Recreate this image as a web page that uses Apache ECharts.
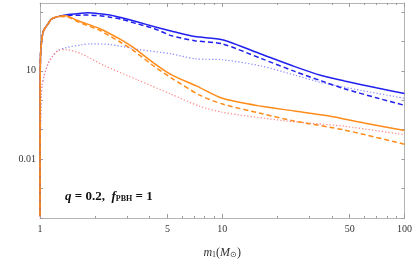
<!DOCTYPE html>
<html><head><meta charset="utf-8">
<script src="https://cdn.jsdelivr.net/npm/echarts@6/dist/echarts.min.js"></script>
<style>html,body{margin:0;padding:0;background:#fff}#c{width:415px;height:264px}</style>
</head><body><div id="c"></div>
<script>
// tick values
const xTickLabels = [1, 5, 10, 50, 100];
const xMinorTicks = [2, 3, 4, 6, 7, 8, 9, 20, 30, 40, 60, 70, 80, 90];
const yTickValues = [1e-4, 1e-3, 1e-2, 1e-1, 1, 10, 100, 1000];
const yTickLabels = [0.01, 10];

// shared steep rise near m1 = 1
const massRise = [1, 1.002, 1.006, 1.0165, 1.038, 1.061, 1.106, 1.153, 1.255];
const solidRise = [1.2e-4, 2, 30, 78, 200, 268, 389, 565, 690];
const massDotRise = [1, 1.0013, 1.006, 1.0165, 1.026, 1.052, 1.106, 1.163, 1.255];
const dotRise = [1.1e-4, 0.002, 0.076, 1.48, 3.1, 6.5, 17.2, 28.9, 48.6];

// blue solid
const bsMass = [1.388, 1.678, 1.833, 2.133, 2.418, 2.779, 3.44, 4.25, 5.24, 7.07, 10, 16.4, 25, 35, 46.9, 70, 100];
const bsVal = [790, 890, 925, 860, 780, 640, 452, 312, 223, 145, 113, 36.4, 13.8, 6.9, 4.52, 2.63, 1.68];
// blue dashed
const bdMass = [1.388, 1.678, 1.833, 2.133, 2.418, 2.779, 3.44, 4.25, 5.24, 7.07, 10, 16.4, 25, 35, 46.9, 70, 100];
const bdVal = [760, 775, 780, 740, 660, 565, 389, 268, 156, 105, 82, 25.9, 9.5, 4.52, 2.44, 1.21, 0.67];
// blue dotted
const btMass = [1.388, 1.678, 1.904, 2.418, 3.44, 5.24, 7.07, 10, 16.4, 25, 35, 57.9, 100];
const btVal = [60.8, 76, 82, 77.6, 53.6, 37.4, 25.5, 23.7, 14.5, 7.1, 3.98, 2.15, 1.16];
// orange solid
const osMass = [1.388, 1.484, 1.615, 2.133, 2.779, 3.233, 4.25, 5.24, 7.25, 10, 16.4, 25, 38, 60, 100];
const osVal = [735, 640, 498, 268, 114, 63, 17.6, 7.43, 3.0, 1.16, 0.62, 0.43, 0.296, 0.168, 0.093];
// orange dashed
const odMass = [1.388, 1.484, 1.615, 2.133, 2.779, 3.233, 4.25, 5.24, 7.53, 10, 16.4, 25, 46.9, 100];
const odVal = [680, 600, 460, 232, 91, 50.5, 13.8, 5.77, 1.48, 0.743, 0.353, 0.195, 0.097, 0.032];
// pink dotted
const ptMass = [1.388, 1.678, 2.262, 3.44, 5.24, 7.53, 10, 22, 46.9, 100];
const ptVal = [52.4, 38, 14.8, 4.87, 1.6, 0.62, 0.39, 0.2, 0.13, 0.067];

function pairs(m1, v1, m2, v2) {
  const out = [];
  m1.forEach((m, i) => out.push([m, v1[i]]));
  m2.forEach((m, i) => out.push([m, v2[i]]));
  return out;
}

const FRAME = '#b4b4b4';
const TICK = '#9a9a9a';
const FONT = 'Liberation Serif';

function xAx(pos, ticks, len, showLine, labels) {
  return {
    type: 'log', logBase: 10, min: 1, max: 100, position: pos,
    axisLine: { show: showLine, lineStyle: { color: FRAME, width: 1 } },
    axisTick: { show: true, inside: true, length: len, customValues: ticks, lineStyle: { color: TICK, width: 1 } },
    axisLabel: labels ? { show: true, customValues: labels, color: '#333', fontFamily: FONT, fontSize: 10, margin: 6 } : { show: false },
    splitLine: { show: false }, minorTick: { show: false }
  };
}
function yAx(pos, showLine, labels) {
  return {
    type: 'log', logBase: 10, min: 1e-4, max: 2000, position: pos,
    axisLine: { show: showLine, lineStyle: { color: FRAME, width: 1 } },
    axisTick: { show: true, inside: true, length: 3, customValues: yTickValues, lineStyle: { color: TICK, width: 1 } },
    axisLabel: labels ? { show: true, customValues: labels, color: '#333', fontFamily: FONT, fontSize: 10, margin: 4 } : { show: false },
    splitLine: { show: false }, minorTick: { show: false }
  };
}

const xMain = xAx('bottom', xTickLabels, 4, true, xTickLabels);
xMain.name = '{i|m}{s|1}({i|M}{s|⊙})';
xMain.nameLocation = 'middle';
xMain.nameGap = 29;
xMain.nameTextStyle = {
  fontFamily: FONT, fontSize: 12, color: '#333',
  rich: {
    i: { fontFamily: FONT, fontStyle: 'italic', fontSize: 12, color: '#333' },
    s: { fontFamily: FONT, fontSize: 8, color: '#333', verticalAlign: 'bottom', padding: [4, 0, 0, 0] }
  }
};

function line(data, color, type, width, z) {
  return {
    type: 'line', data: data, xAxisIndex: 0, yAxisIndex: 0,
    showSymbol: false, symbol: 'none', smooth: 0.25, clip: true, z: z,
    lineStyle: { color: color, type: type, width: width }
  };
}

const chart = echarts.init(document.getElementById('c'), null, { renderer: 'canvas' });
chart.setOption({
  animation: false,
  backgroundColor: '#fff',
  grid: { left: 40, right: 10, top: 3, bottom: 35 },
  xAxis: [
    xMain,
    xAx('bottom', xMinorTicks, 2, false, null),
    xAx('top', xTickLabels, 4, true, null),
    xAx('top', xMinorTicks, 2, false, null)
  ],
  yAxis: [
    yAx('left', true, yTickLabels),
    yAx('right', true, null)
  ],
  graphic: [{
    type: 'text', left: 65, top: 190,
    style: {
      text: '{b|q} {n|= 0.2,  }{b|f}{sub|PBH}{n| = 1}',
      rich: {
        b: { fontFamily: FONT, fontSize: 13, fontWeight: 'bold', fontStyle: 'italic', fill: '#111' },
        n: { fontFamily: FONT, fontSize: 13, fontWeight: 'bold', fill: '#111' },
        sub: { fontFamily: FONT, fontSize: 8, fontWeight: 'bold', fill: '#111', verticalAlign: 'bottom', padding: [4, 0, 0, 0] }
      }
    }
  }],
  series: [
    line(pairs(massDotRise, dotRise, btMass, btVal), '#8c8cff', [1.3, 2], 1.2, 1),
    line(pairs(massDotRise, dotRise, ptMass, ptVal), '#ff8a8a', [1.3, 2], 1.2, 1),
    line(pairs(massRise, solidRise, bdMass, bdVal), '#2020ee', [5, 3], 1.5, 2),
    line(pairs(massRise, solidRise, bsMass, bsVal), '#2020ee', 'solid', 1.5, 3),
    line(pairs(massRise, solidRise, odMass, odVal), '#ff8c1a', [5, 3], 1.5, 4),
    line(pairs(massRise, solidRise, osMass, osVal), '#ff8c1a', 'solid', 1.5, 5)
  ]
});
</script></body></html>
